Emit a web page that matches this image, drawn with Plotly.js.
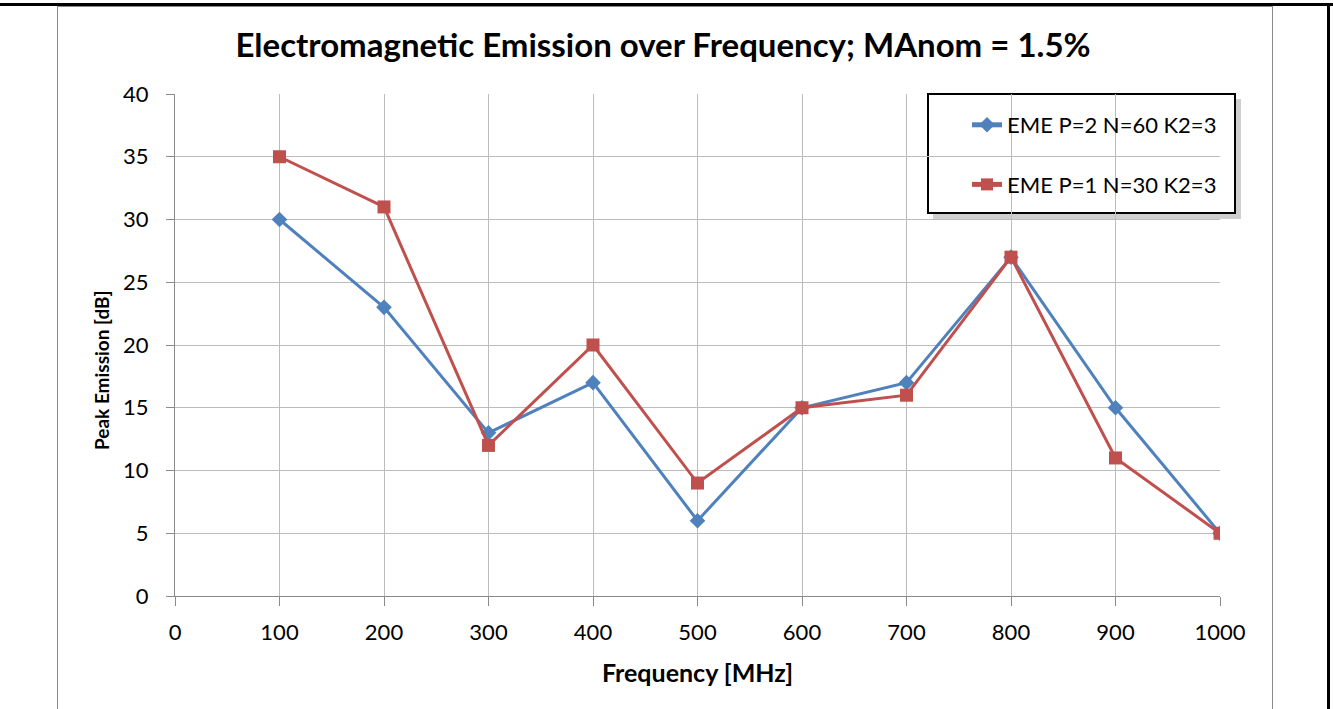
<!DOCTYPE html>
<html>
<head>
<meta charset="utf-8">
<script src="https://cdn.plot.ly/plotly-3.0.1.min.js"></script>
<style>
  html, body { margin: 0; padding: 0; background: #ffffff; }
  #wrap { position: relative; width: 1333px; height: 709px; overflow: hidden; }
  #chart { position: absolute; left: 0; top: 0; width: 1333px; height: 709px; }
  .rule { position: absolute; pointer-events: none; }
</style>
</head>
<body>
<div id="wrap">
  <div id="chart"></div>
  <!-- page rules and chart frame -->
  <div class="rule" style="left:57px; top:6px; width:1px; height:703px; background:#8a8a8a;"></div>
  <div class="rule" style="left:1272px; top:6px; width:1px; height:703px; background:#8a8a8a;"></div>
  <div class="rule" style="left:57px; top:6px; width:1216px; height:1px; background:#8a8a8a;"></div>
  <div class="rule" style="left:0; top:3px; width:1333px; height:3px; background:#000000;"></div>
  <div class="rule" style="left:1327px; top:3px; width:3px; height:706px; background:#000000;"></div>
</div>
<script>
// Frequency points (MHz)
const frequency = [100, 200, 300, 400, 500, 600, 700, 800, 900, 1000];
// Peak emission (dB) per configuration
const emeP2N60 = [30, 23, 13, 17, 6, 15, 17, 27, 15, 5];
const emeP1N30 = [35, 31, 12, 20, 9, 15, 16, 27, 11, 5];
const seriesNames = ['EME P=2 N=60 K2=3', 'EME P=1 N=30 K2=3'];

const FONT = 'Lato, "Open Sans", "DejaVu Sans", sans-serif';

const traces = [
  {
    x: frequency, y: emeP2N60, name: seriesNames[0],
    type: 'scatter', mode: 'lines+markers',
    line: { color: '#4F81BD', width: 3 },
    marker: { symbol: 'diamond', size: 12, color: '#4F81BD' },
    legendgroup: 'a'
  },
  {
    x: frequency, y: emeP1N30, name: seriesNames[1],
    type: 'scatter', mode: 'lines+markers',
    line: { color: '#C0504D', width: 3 },
    marker: { symbol: 'square', size: 13, color: '#C0504D' },
    legendgroup: 'b'
  }
];

// plot area in pixels: left 175, right 1220, top 94, bottom 596
const px = v => (v - 175) / 1045;
const py = v => (596 - v) / 502;

const layout = {
  width: 1333, height: 709,
  margin: { l: 175, r: 113, t: 94, b: 113, pad: 0 },
  paper_bgcolor: 'rgba(0,0,0,0)',
  plot_bgcolor: '#ffffff',
  font: { family: FONT, color: '#000000' },
  title: {
    text: '<b>Electromagnetic Emission over Frequency; MAnom = 1.5%</b>',
    font: { family: FONT, size: 33, color: '#000000' },
    x: px(663), xref: 'paper', xanchor: 'center',
    y: 1 - 45 / 709, yanchor: 'middle'
  },
  xaxis: {
    range: [0, 1000], dtick: 100, tick0: 0,
    showgrid: true, gridcolor: '#bcbcbc', gridwidth: 1,
    showline: true, linecolor: '#8a8a8a', linewidth: 1,
    ticks: 'outside', ticklen: 9, tickcolor: '#8a8a8a',
    ticklabelstandoff: 8,
    tickfont: { family: FONT, size: 22, color: '#000000' },
    zeroline: false, fixedrange: true,
    title: { text: '<b>Frequency [MHz]</b>', font: { family: FONT, size: 25 }, standoff: 20 }
  },
  yaxis: {
    range: [0, 40], dtick: 5, tick0: 0,
    showgrid: true, gridcolor: '#bcbcbc', gridwidth: 1,
    showline: true, linecolor: '#8a8a8a', linewidth: 1,
    ticks: 'outside', ticklen: 8, tickcolor: '#8a8a8a',
    ticklabelstandoff: 13,
    tickfont: { family: FONT, size: 22, color: '#000000' },
    zeroline: false, fixedrange: true
  },
  annotations: [
    { text: '<b>Peak Emission [dB]</b>', xref: 'paper', yref: 'paper',
      x: px(101), y: py(371), xanchor: 'center', yanchor: 'middle',
      textangle: -90, showarrow: false,
      font: { family: FONT, size: 19, color: '#000000' } }
  ],
  showlegend: true,
  legend: {
    x: px(967), y: py(104), xanchor: 'left', yanchor: 'top',
    bgcolor: 'rgba(0,0,0,0)', borderwidth: 0,
    font: { family: FONT, size: 22, color: '#000000' },
    traceorder: 'grouped', tracegroupgap: 28,
    itemsizing: 'constant'
  },
  shapes: [
    // legend box shadow
    { type: 'rect', xref: 'paper', yref: 'paper', layer: 'below',
      x0: px(933), x1: px(1241), y0: py(219), y1: py(99),
      fillcolor: '#cfcfcf', line: { width: 0 } },
    // legend box
    { type: 'rect', xref: 'paper', yref: 'paper', layer: 'below',
      x0: px(928), x1: px(1235), y0: py(213), y1: py(94),
      fillcolor: '#ffffff', line: { color: '#000000', width: 2 } }
  ]
};

Plotly.newPlot('chart', traces, layout, { displayModeBar: false, staticPlot: true });
</script>
</body>
</html>
